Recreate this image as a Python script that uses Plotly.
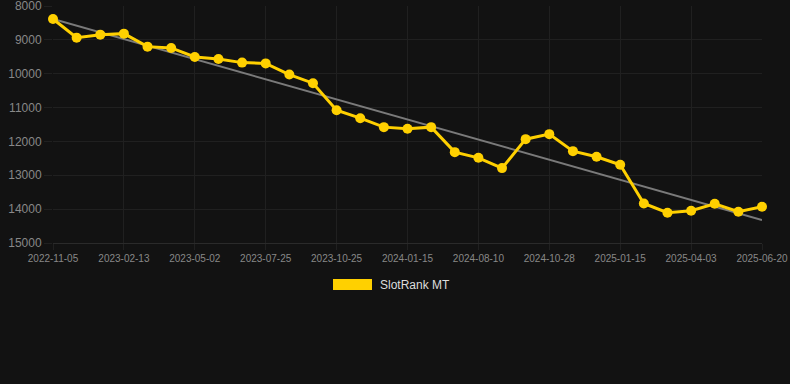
import numpy as np
import plotly.graph_objects as go

dates = ["2022-11-05", "2022-12-08", "2023-01-11", "2023-02-13", "2023-03-11", "2023-04-06",
         "2023-05-02", "2023-05-30", "2023-06-27", "2023-07-25", "2023-08-25", "2023-09-25",
         "2023-10-25", "2023-11-21", "2023-12-18", "2024-01-15", "2024-03-25", "2024-06-01",
         "2024-08-10", "2024-09-05", "2024-10-02", "2024-10-28", "2024-11-23", "2024-12-19",
         "2025-01-15", "2025-02-10", "2025-03-08", "2025-04-03", "2025-04-29", "2025-05-25",
         "2025-06-20"]
ranks = [8383, 8935, 8846, 8816, 9200, 9239, 9505, 9563, 9672, 9695, 10025, 10280,
         11077, 11313, 11578, 11628, 11578, 12316, 12484, 12788, 11933, 11785, 12287,
         12454, 12690, 13832, 14106, 14047, 13841, 14077, 13929]
tick_labels = ["2022-11-05", "2023-02-13", "2023-05-02", "2023-07-25", "2023-10-25",
               "2024-01-15", "2024-08-10", "2024-10-28", "2025-01-15", "2025-04-03", "2025-06-20"]
y_ticks = [8000, 9000, 10000, 11000, 12000, 13000, 14000, 15000]
series_name = "SlotRank MT"

idx = np.arange(len(ranks))
slope, intercept = np.polyfit(idx, ranks, 1)
trend = slope * idx + intercept

YELLOW = "#FFD000"
BG = "#121212"
GRID = "#202020"

fig = go.Figure()
fig.add_trace(go.Scatter(x=dates, y=trend, mode="lines",
                         line=dict(color="#7a7a7a", width=2),
                         showlegend=False, hoverinfo="skip"))
fig.add_trace(go.Scatter(x=dates, y=ranks, mode="lines+markers", name=series_name,
                         line=dict(color=YELLOW, width=3),
                         marker=dict(color=YELLOW, size=10),
                         cliponaxis=False, showlegend=False))

fig.update_layout(
    width=790, height=384,
    paper_bgcolor=BG, plot_bgcolor=BG,
    margin=dict(l=53, r=28, t=6, b=141),
    font=dict(family="Arial, Liberation Sans, sans-serif", color="#888888"),
    xaxis=dict(type="category", range=[0, len(dates) - 1], automargin=False,
               tickmode="array", tickvals=tick_labels, ticktext=tick_labels,
               showgrid=True, gridcolor=GRID, gridwidth=1,
               zeroline=False, showline=True, linecolor="#2a2a2a",
               ticks="outside", ticklen=6, tickcolor=GRID,
               ticklabeloverflow="allow",
               tickfont=dict(size=10, color="#888888"), tickangle=0),
    yaxis=dict(range=[15000, 8000], tickmode="array", tickvals=y_ticks, automargin=False,
               tickformat="d", ticklabeloverflow="allow",
               showgrid=True, gridcolor=GRID, gridwidth=1, zeroline=False,
               ticks="outside", ticklen=8, tickcolor=GRID,
               tickfont=dict(size=12, color="#888888")),
    shapes=[dict(type="rect", xref="paper", yref="paper",
                 x0=(333 - 53) / 709, x1=(372 - 53) / 709,
                 y0=-(279 - 243) / 237, y1=-(290 - 243) / 237,
                 fillcolor=YELLOW, line=dict(width=0))],
    annotations=[dict(text=series_name, xref="paper", yref="paper",
                      x=(378 - 53) / 709, y=-(284.5 - 243) / 237,
                      xanchor="left", yanchor="middle", showarrow=False,
                      font=dict(size=12, color="#dddddd"))],
)

fig.write_html("out.html", config={"displayModeBar": False},
               post_script="document.body.style.margin='0';document.body.style.background='#121212';")
